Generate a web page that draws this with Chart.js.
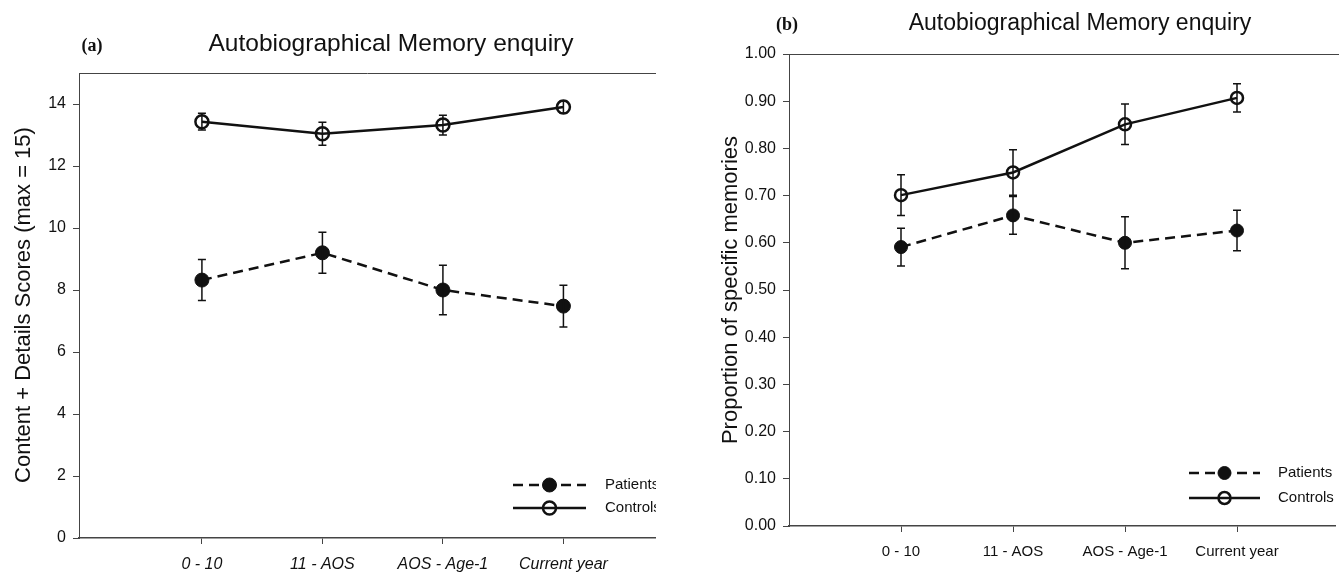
<!DOCTYPE html>
<html>
<head>
<meta charset="utf-8">
<script src="https://cdn.jsdelivr.net/npm/chart.js@4.4.1/dist/chart.umd.min.js"></script>
<style>
  html, body { margin: 0; padding: 0; background: #fff; }
  body { width: 1339px; height: 576px; position: relative; overflow: hidden; }
  canvas { position: absolute; top: 0; }
  #panelA { left: 0; }
  #panelB { left: 670px; }
</style>
</head>
<body>
<canvas id="panelA" width="656" height="576"></canvas>
<canvas id="panelB" width="669" height="576"></canvas>
<script>
// categories (age periods)
const categories = ['0 - 10', '11 - AOS', 'AOS - Age-1', 'Current year'];
const seriesNames = ['Patients', 'Controls'];

// (a) content + details scores
const scorePatients = [8.32, 9.2, 8.0, 7.48];
const scorePatientsErr = [0.66, 0.66, 0.8, 0.67];
const scoreControls = [13.43, 13.04, 13.32, 13.9];
const scoreControlsErr = [0.27, 0.37, 0.32, 0.2];
const scoreTicks = [0, 2, 4, 6, 8, 10, 12, 14];

// (b) proportion of specific memories
const propPatients = [0.591, 0.658, 0.600, 0.626];
const propPatientsErr = [0.04, 0.04, 0.055, 0.043];
const propControls = [0.701, 0.749, 0.851, 0.907];
const propControlsErr = [0.043, 0.048, 0.043, 0.03];
const propTicks = [0, 0.1, 0.2, 0.3, 0.4, 0.5, 0.6, 0.7, 0.8, 0.9, 1.0];

const INK = '#111';
const AXIS = '#444';
const SANS = "'Liberation Sans', Arial, sans-serif";

function toPoints(values) {
    return values.map((v, i) => ({ x: i + 1, y: v }));
}

// error bars drawn on top of markers
const errorBars = {
    id: 'errorBars',
    afterDatasetsDraw(chart) {
        const ctx = chart.ctx;
        const yScale = chart.scales.y;
        chart.data.datasets.forEach((ds, di) => {
            const meta = chart.getDatasetMeta(di);
            ctx.save();
            ctx.strokeStyle = INK;
            ctx.lineWidth = 1.5;
            meta.data.forEach((pt, i) => {
                const v = ds.data[i].y, e = ds.errors[i];
                const top = yScale.getPixelForValue(v + e);
                const bot = yScale.getPixelForValue(v - e);
                ctx.beginPath();
                ctx.moveTo(pt.x, top); ctx.lineTo(pt.x, bot);
                ctx.moveTo(pt.x - 4, top); ctx.lineTo(pt.x + 4, top);
                ctx.moveTo(pt.x - 4, bot); ctx.lineTo(pt.x + 4, bot);
                ctx.stroke();
            });
            ctx.restore();
        });
    }
};

// titles, panel letter, y title, top frame line and inner legend
const decor = {
    id: 'decor',
    afterDraw(chart) {
        const o = chart.options.plugins.decor;
        const ctx = chart.ctx;
        const area = chart.chartArea;
        ctx.save();
        // top frame
        ctx.strokeStyle = AXIS;
        ctx.lineWidth = 1;
        ctx.beginPath();
        ctx.moveTo(area.left, area.top + 0.5);
        ctx.lineTo(chart.width, area.top + 0.5);
        ctx.stroke();

        ctx.fillStyle = INK;
        ctx.textBaseline = 'alphabetic';
        ctx.textAlign = 'center';
        ctx.font = "bold 18px 'Liberation Serif', serif";
        ctx.fillText(o.letter, o.letterX, o.titleY);
        ctx.font = o.titleFont + 'px ' + SANS;
        ctx.fillText(o.title, o.titleX, o.titleY);

        // y axis title
        ctx.save();
        ctx.translate(o.yTitleX, o.yTitleY);
        ctx.rotate(-Math.PI / 2);
        ctx.textBaseline = 'middle';
        ctx.font = o.yTitleFont + 'px ' + SANS;
        ctx.fillText(o.yTitle, 0, 0);
        ctx.restore();

        // legend
        chart.data.datasets.forEach((ds, i) => {
            const y = o.legendY[i];
            ctx.save();
            ctx.strokeStyle = INK;
            ctx.lineWidth = 2.5;
            ctx.setLineDash(ds.borderDash || []);
            ctx.beginPath();
            ctx.moveTo(o.legendX1, y);
            ctx.lineTo(o.legendX2, y);
            ctx.stroke();
            ctx.setLineDash([]);
            const mx = (o.legendX1 + o.legendX2) / 2;
            ctx.beginPath();
            ctx.arc(mx, y, ds.pointRadius, 0, Math.PI * 2);
            if (ds.pointBackgroundColor !== 'rgba(0,0,0,0)') {
                ctx.fillStyle = ds.pointBackgroundColor;
                ctx.fill();
            }
            ctx.lineWidth = ds.pointBorderWidth;
            ctx.stroke();
            ctx.fillStyle = INK;
            ctx.textAlign = 'left';
            ctx.textBaseline = 'middle';
            ctx.font = '15px ' + SANS;
            ctx.fillText(ds.label, o.legendTextX, y);
            ctx.restore();
        });
        ctx.restore();
    }
};

function makeDatasets(pVals, pErr, cVals, cErr, rP, rC) {
    return [{
        label: seriesNames[0],
        data: toPoints(pVals),
        errors: pErr,
        borderColor: INK,
        borderWidth: 2.5,
        borderDash: [10, 6],
        pointRadius: rP,
        pointBackgroundColor: INK,
        pointBorderColor: INK,
        pointBorderWidth: 1,
        tension: 0
    }, {
        label: seriesNames[1],
        data: toPoints(cVals),
        errors: cErr,
        borderColor: INK,
        borderWidth: 2.5,
        pointRadius: rC,
        pointBackgroundColor: 'rgba(0,0,0,0)',
        pointBorderColor: INK,
        pointBorderWidth: 2.5,
        tension: 0
    }];
}

function makeOptions(p) {
    return {
        responsive: false,
        animation: false,
        devicePixelRatio: 1,
        layout: { autoPadding: false, padding: { top: p.top, right: p.right, left: 0, bottom: 0 } },
        plugins: {
            legend: { display: false },
            tooltip: { enabled: false },
            decor: p.decor
        },
        scales: {
            x: {
                type: 'linear',
                min: p.xMin,
                max: p.xMax,
                afterBuildTicks: s => { s.ticks = categories.map((c, i) => ({ value: i + 1 })); },
                afterFit: s => { s.height = p.xHeight; s.paddingLeft = 0; s.paddingRight = 0; },
                ticks: {
                    callback: v => categories[v - 1],
                    color: INK,
                    padding: 11,
                    maxRotation: 0,
                    font: { family: SANS, size: p.xFont, style: p.xStyle }
                },
                grid: { drawOnChartArea: false, drawTicks: true, tickLength: 6, color: AXIS },
                border: { color: AXIS, width: 1.5 }
            },
            y: {
                min: p.yMin,
                max: p.yMax,
                afterBuildTicks: s => { s.ticks = p.yTicks.map(v => ({ value: v })); },
                afterFit: s => { s.width = p.yWidth; s.paddingTop = 0; s.paddingBottom = 0; },
                ticks: {
                    callback: p.yFmt,
                    color: INK,
                    padding: 7,
                    font: { family: SANS, size: p.yFont }
                },
                grid: { drawOnChartArea: false, drawTicks: true, tickLength: 6, color: AXIS },
                border: { color: AXIS, width: 1 }
            }
        }
    };
}

new Chart(document.getElementById('panelA').getContext('2d'), {
    type: 'line',
    data: { datasets: makeDatasets(scorePatients, scorePatientsErr, scoreControls, scoreControlsErr, 7, 6.5) },
    options: makeOptions({
        top: 73, right: 1, xMin: -0.02, xMax: 4.76, xHeight: 38, xFont: 16, xStyle: 'italic',
        yMin: 0, yMax: 15, yTicks: scoreTicks, yWidth: 79, yFont: 16, yFmt: v => String(v),
        decor: {
            letter: '(a)', letterX: 92, title: 'Autobiographical Memory enquiry', titleX: 391, titleY: 51, titleFont: 24.5,
            yTitle: 'Content + Details Scores (max = 15)', yTitleX: 24, yTitleY: 305, yTitleFont: 22,
            legendY: [485, 508], legendX1: 513, legendX2: 586, legendTextX: 605
        }
    }),
    plugins: [errorBars, decor]
});

new Chart(document.getElementById('panelB').getContext('2d'), {
    type: 'line',
    data: { datasets: makeDatasets(propPatients, propPatientsErr, propControls, propControlsErr, 6.5, 6) },
    options: makeOptions({
        top: 54, right: 4, xMin: 0, xMax: 4.875, xHeight: 50, xFont: 15, xStyle: 'normal',
        yMin: 0, yMax: 1, yTicks: propTicks, yWidth: 119, yFont: 16, yFmt: v => v.toFixed(2),
        decor: {
            letter: '(b)', letterX: 117, title: 'Autobiographical Memory enquiry', titleX: 410, titleY: 30, titleFont: 23,
            yTitle: 'Proportion of specific memories', yTitleX: 61, yTitleY: 290, yTitleFont: 22,
            legendY: [473, 498], legendX1: 519, legendX2: 590, legendTextX: 608
        }
    }),
    plugins: [errorBars, decor]
});
</script>
</body>
</html>
